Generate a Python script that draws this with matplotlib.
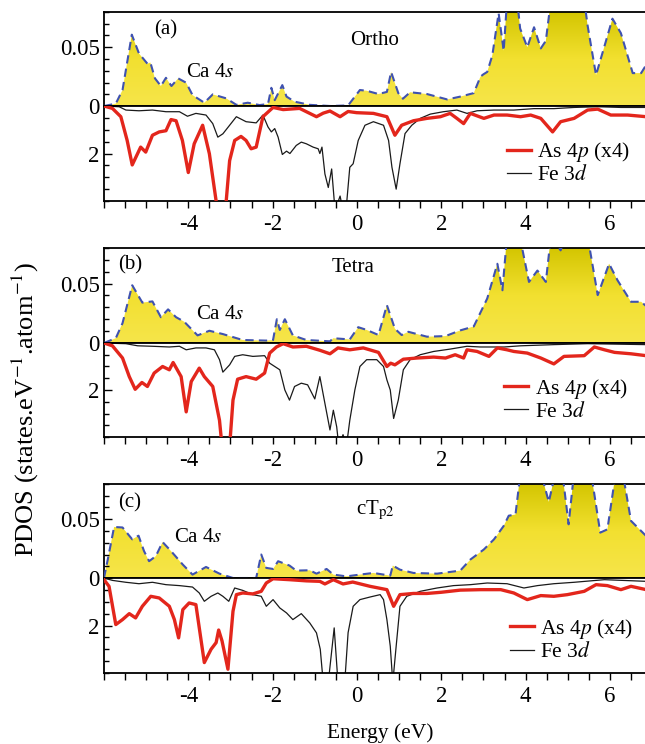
import numpy as np
import matplotlib
import matplotlib.pyplot as plt
from matplotlib.ticker import MultipleLocator, FixedLocator
from matplotlib.colors import LinearSegmentedColormap
from matplotlib.lines import Line2D

plt.rcParams["font.family"] = ["Liberation Serif", "DejaVu Serif"]
plt.rcParams["mathtext.fontset"] = "stix"
plt.rcParams["axes.unicode_minus"] = False

# ---------------- data ----------------
# (a) Ortho
ca_e_a = [-6, -5.72, -5.56, -5.34, -5.17, -4.97, -4.9, -4.79, -4.65, -4.53, -4.4, -4.24, -4.05, -3.9,
          -3.62, -3.42, -3.1, -2.86, -2.59, -2.31, -2.11, -2.03, -1.95, -1.77, -1.67, -1.48, -1.12,
          -0.64, -0.21, 0.07, 0.23, 0.51, 0.71, 0.81, 0.98, 1.09, 1.26, 1.66, 2.14, 2.45, 2.77, 2.93,
          3.0, 3.09, 3.21, 3.36, 3.48, 3.56, 3.8, 3.87, 4.04, 4.2, 4.36, 4.48, 4.6, 5.39, 5.47, 5.67,
          6.06, 6.26, 6.54, 6.74, 6.86]
ca_a = [0, 0.002, 0.0136, 0.0607, 0.0447, 0.036, 0.037, 0.0235, 0.017, 0.024, 0.017, 0.0235, 0.0198,
        0.0093, 0.0028, 0.0099, 0.0065, 0.001, 0.0028, 0.0008, 0.0017, 0.0155, 0.005, 0.0178, 0.008,
        0.0037, 0.001, 0.0, 0.0005, 0.0136, 0.013, 0.0102, 0.012, 0.029, 0.011, 0.0062, 0.0117, 0.0102,
        0.0056, 0.008, 0.011, 0.025, 0.027, 0.029, 0.043, 0.079, 0.047, 0.09, 0.09, 0.066, 0.05, 0.067,
        0.049, 0.0555, 0.09, 0.09, 0.0686, 0.0263, 0.0743, 0.062, 0.028, 0.028, 0.035]
as_e_a = [-6, -5.8, -5.6, -5.45, -5.33, -5.13, -5.01, -4.85, -4.69, -4.53, -4.41, -4.29, -4.14, -4.0,
          -3.86, -3.66, -3.5, -3.34, -3.28, -3.12, -3.02, -2.9, -2.75, -2.63, -2.51, -2.39, -2.23,
          -1.99, -1.75, -1.36, -0.96, -0.8, -0.64, -0.4, -0.21, -0.01, 0.39, 0.71, 0.9, 1.06, 1.34,
          1.66, 1.98, 2.21, 2.37, 2.53, 2.69, 3.01, 3.25, 3.56, 3.88, 4.12, 4.36, 4.64, 4.83, 5.15,
          5.47, 5.71, 6.02, 6.42, 6.86]
as_a = [0, 0.1, 0.45, 1.45, 2.48, 1.73, 1.94, 1.23, 1.09, 1.04, 0.57, 0.62, 1.45, 2.8, 1.59, 0.81,
        2.01, 4.0, 4.4, 4.4, 2.3, 1.45, 1.28, 1.45, 1.8, 1.73, 0.45, 0.06, 0.15, 0.1, 0.45, 0.3, 0.21,
        0.45, 0.23, 0.28, 0.31, 0.45, 1.23, 0.81, 0.62, 0.52, 0.45, 0.31, 0.52, 0.74, 0.31, 0.52, 0.38,
        0.38, 0.45, 0.38, 0.52, 1.09, 0.66, 0.52, 0.17, 0.13, 0.38, 0.38, 0.45]
fe_e_a = [-6, -5.64, -5.48, -5.17, -4.85, -4.53, -4.21, -4.02, -3.82, -3.58, -3.42, -3.3, -3.18, -3.02,
          -2.86, -2.63, -2.39, -2.23, -2.11, -2.03, -1.95, -1.87, -1.77, -1.67, -1.59, -1.44, -1.32,
          -1.2, -1.04, -0.92, -0.88, -0.83, -0.76, -0.68, -0.6, -0.52, -0.4, -0.33, -0.25, -0.17,
          -0.09, 0.03, 0.19, 0.39, 0.63, 0.75, 0.83, 0.93, 1.02, 1.14, 1.3, 1.5, 1.74, 2.05, 2.37,
          2.61, 2.85, 3.25, 3.72, 4.2, 4.67, 5.15, 5.71, 6.26, 6.86]
fe_a = [0, 0.03, 0.17, 0.2, 0.17, 0.24, 0.24, 0.43, 0.31, 0.38, 0.74, 1.31, 1.17, 0.81, 0.45, 0.66,
        0.71, 0.38, 0.88, 1.09, 0.95, 1.31, 2.04, 1.9, 2.0, 1.66, 1.52, 1.59, 1.73, 1.8, 2.0, 1.73,
        2.86, 3.43, 2.65, 4.4, 3.79, 4.4, 4.2, 2.58, 2.43, 1.45, 0.81, 0.66, 0.81, 1.45, 2.58, 3.5,
        2.43, 1.16, 0.81, 0.52, 0.34, 0.24, 0.17, 0.31, 0.2, 0.17, 0.17, 0.11, 0.11, 0.06, 0.03, 0.06,
        0.06]

# (b) Tetra
ca_e_b = [-6, -5.72, -5.56, -5.33, -5.09, -4.85, -4.65, -4.48, -4.29, -4.1, -3.78, -3.5, -3.18, -2.71,
          -2.15, -1.99, -1.9, -1.83, -1.71, -1.52, -1.2, -0.64, -0.56, -0.17, 0.03, 0.23, 0.51, 0.71,
          0.9, 1.06, 1.22, 1.66, 2.1, 2.45, 2.77, 3.09, 3.33, 3.45, 3.56, 3.86, 4.08, 4.28, 4.48, 4.6,
          4.83, 4.95, 5.47, 5.71, 5.98, 6.18, 6.5, 6.74, 6.86]
ca_b = [0, 0.004, 0.0167, 0.0486, 0.034, 0.035, 0.0217, 0.0283, 0.0217, 0.018, 0.0064, 0.0103, 0.0075,
        0.0025, 0.002, 0.0025, 0.02, 0.011, 0.02, 0.0064, 0.0025, 0.0014, 0.004, 0.003, 0.0133, 0.011,
        0.0067, 0.0319, 0.012, 0.0067, 0.0094, 0.0053, 0.0058, 0.0106, 0.0139, 0.0375, 0.0667, 0.0444,
        0.09, 0.09, 0.0514, 0.061, 0.0514, 0.09, 0.078, 0.09, 0.09, 0.0403, 0.0667, 0.0528, 0.0347,
        0.0347, 0.031]
as_e_b = [-6, -5.8, -5.56, -5.4, -5.26, -5.1, -4.97, -4.81, -4.61, -4.45, -4.36, -4.17, -4.05, -3.93,
          -3.74, -3.62, -3.42, -3.26, -3.2, -3.02, -2.94, -2.83, -2.63, -2.39, -2.19, -2.07, -1.91,
          -1.75, -1.52, -1.2, -0.88, -0.64, -0.45, -0.17, 0.15, 0.51, 0.71, 0.8, 0.9, 1.1, 1.42, 1.82,
          2.1, 2.33, 2.53, 2.61, 2.85, 3.13, 3.33, 3.56, 3.72, 4.04, 4.36, 4.67, 4.91, 5.39, 5.63,
          5.87, 6.11, 6.5, 6.86]
as_b = [0, 0.12, 0.64, 1.43, 1.97, 1.68, 1.85, 1.28, 1.0, 1.14, 0.83, 1.43, 2.93, 1.64, 1.07, 1.43,
        1.85, 3.29, 4.4, 4.4, 2.43, 1.54, 1.43, 1.54, 1.28, 0.43, 0.17, 0.03, 0.17, 0.14, 0.31, 0.46,
        0.21, 0.29, 0.21, 0.4, 1.0, 0.86, 0.93, 0.69, 0.64, 0.6, 0.64, 0.5, 0.64, 0.29, 0.36, 0.57,
        0.21, 0.29, 0.36, 0.43, 0.64, 0.89, 0.57, 0.54, 0.17, 0.29, 0.4, 0.46, 0.54]
fe_e_b = [-6, -5.48, -5.2, -4.85, -4.45, -4.21, -4.05, -3.82, -3.58, -3.38, -3.26, -3.18, -3.02, -2.9,
          -2.71, -2.47, -2.19, -2.07, -1.83, -1.71, -1.6, -1.48, -1.32, -1.17, -1.0, -0.88, -0.76,
          -0.64, -0.56, -0.48, -0.43, -0.33, -0.25, -0.17, -0.05, 0.07, 0.23, 0.47, 0.63, 0.71, 0.79,
          0.87, 0.98, 1.1, 1.26, 1.5, 1.82, 2.21, 2.61, 2.93, 3.49, 3.88, 4.67, 5.47, 6.86]
fe_b = [0, 0.03, 0.12, 0.14, 0.17, 0.14, 0.29, 0.21, 0.21, 0.29, 0.71, 1.24, 0.93, 0.57, 0.5, 0.57,
        0.54, 0.86, 1.14, 2.0, 2.43, 1.85, 1.71, 1.78, 2.38, 1.43, 2.57, 3.7, 2.86, 3.57, 4.4, 3.9,
        4.4, 3.29, 2.0, 1.0, 0.71, 0.71, 1.0, 1.57, 2.0, 3.21, 2.43, 1.14, 0.71, 0.5, 0.36, 0.26, 0.14,
        0.17, 0.17, 0.12, 0.07, 0.03, 0.07]

# (c) cTp2
ca_e_c = [-6, -5.91, -5.76, -5.56, -5.33, -5.18, -5.05, -4.93, -4.77, -4.61, -4.41, -4.13, -3.9, -3.58,
          -3.26, -2.94, -2.39, -2.27, -2.15, -1.99, -1.87, -1.6, -1.44, -1.12, -0.96, -0.72, -0.56,
          -0.25, 0.07, 0.39, 0.79, 0.85, 1.02, 1.34, 1.9, 2.45, 2.69, 3.01, 3.25, 3.48, 3.6, 3.76,
          3.88, 4.36, 4.55, 4.71, 4.87, 5.02, 5.15, 5.55, 5.77, 5.94, 6.14, 6.3, 6.5, 6.86]
ca_c = [0, 0.0157, 0.0434, 0.043, 0.0329, 0.036, 0.0229, 0.0143, 0.0186, 0.0306, 0.0229, 0.0114,
        0.0029, 0.0094, 0.0037, 0, 0, 0.02, 0.0086, 0.0077, 0.0143, 0.0106, 0.0063, 0.0066, 0.0037,
        0.0077, 0.0029, 0.0014, 0.0029, 0.0043, 0.002, 0.0106, 0.0071, 0.0043, 0.0037, 0.0063, 0.0157,
        0.0243, 0.0329, 0.0443, 0.053, 0.054, 0.09, 0.09, 0.0648, 0.09, 0.09, 0.0457, 0.09, 0.09,
        0.0386, 0.0414, 0.09, 0.09, 0.0486, 0.0357]
as_e_c = [-6, -5.88, -5.72, -5.56, -5.4, -5.25, -5.09, -4.89, -4.69, -4.45, -4.33, -4.23, -4.13, -3.98,
          -3.82, -3.62, -3.46, -3.34, -3.28, -3.2, -3.06, -2.94, -2.86, -2.71, -2.47, -2.27, -2.15,
          -1.99, -1.6, -1.2, -0.88, -0.76, -0.56, -0.33, -0.1, 0.31, 0.71, 0.87, 1.02, 1.34, 1.66, 2.0,
          2.45, 2.93, 3.41, 3.72, 4.04, 4.36, 4.67, 4.99, 5.39, 5.67, 5.94, 6.26, 6.5, 6.86]
as_c = [0.07, 0.35, 1.96, 1.75, 1.5, 1.68, 1.19, 0.77, 0.84, 1.19, 1.75, 2.52, 1.33, 1.05, 1.12, 3.56,
        3.0, 2.72, 2.19, 2.65, 3.84, 1.4, 0.7, 0.63, 0.67, 0.56, 0.21, 0.03, 0.07, 0.12, 0.14, 0.25,
        0.07, 0.25, 0.17, 0.35, 0.49, 1.19, 0.7, 0.65, 0.65, 0.6, 0.51, 0.49, 0.49, 0.63, 0.91, 0.74,
        0.77, 0.7, 0.56, 0.28, 0.32, 0.49, 0.35, 0.49]
fe_e_c = [-6, -5.8, -5.48, -5.17, -4.85, -4.53, -4.21, -3.9, -3.74, -3.62, -3.46, -3.3, -3.18, -3.04,
          -2.9, -2.71, -2.47, -2.27, -2.15, -1.99, -1.83, -1.67, -1.52, -1.32, -1.12, -0.96, -0.87,
          -0.8, -0.68, -0.54, -0.45, -0.29, -0.21, -0.09, 0.07, 0.31, 0.55, 0.63, 0.71, 0.79, 0.85,
          0.93, 1.02, 1.18, 1.5, 1.9, 2.29, 2.69, 3.09, 3.56, 3.96, 4.28, 4.67, 5.15, 5.87, 6.86]
fe_c = [0, 0.1, 0.18, 0.24, 0.18, 0.28, 0.32, 0.38, 0.63, 0.98, 0.77, 0.63, 0.77, 0.98, 0.42, 0.52,
        0.7, 0.77, 1.19, 0.91, 1.26, 1.47, 1.75, 1.5, 1.89, 2.31, 3.0, 4.4, 4.4, 2.1, 4.4, 4.4, 2.3,
        1.19, 0.91, 0.8, 0.7, 0.91, 1.75, 2.87, 4.4, 2.87, 1.19, 0.77, 0.56, 0.42, 0.32, 0.28, 0.21,
        0.24, 0.42, 0.32, 0.24, 0.18, 0.07, 0.14]

panel_tags = ["(a)", "(b)", "(c)"]
phase_names = ["Ortho", "Tetra", r"cT$_{\mathrm{p2}}$"]
x_ticks = [-4, -2, 0, 2, 4, 6]

# ---------------- layout ----------------
L, W = 0.1612, 0.84
# (top, zero line, bottom) of each panel in figure fraction
frames = [(0.9839, 0.8575, 0.7298), (0.6667, 0.5390, 0.4126), (0.3495, 0.2231, 0.0954)]
tag_pos = [(0.113, 0.81), (0.048, 0.82), (0.048, 0.80)]
name_pos = [(0.50, 0.70), (0.46, 0.79), (0.50, 0.72)]
ca_pos = [(0.196, 0.36), (0.214, 0.30), (0.174, 0.43)]
leg_pos = [(0.744, 0.64), (0.739, 0.64), (0.75, 0.59)]

ca_data = [(ca_e_a, ca_a), (ca_e_b, ca_b), (ca_e_c, ca_c)]
as_data = [(as_e_a, as_a), (as_e_b, as_b), (as_e_c, as_c)]
fe_data = [(fe_e_a, fe_a), (fe_e_b, fe_b), (fe_e_c, fe_c)]

FS = 16
yellow = LinearSegmentedColormap.from_list("yel", ["#F6E54A", "#F2E030", "#D3C500"])
RED = "#E3261C"
BLUE = "#3F52B0"

fig = plt.figure(figsize=(6.45, 7.44), dpi=100)

for i in range(3):
    top, zero, bot = frames[i]
    ax_up = fig.add_axes([L, zero, W, top - zero])
    ax_dn = fig.add_axes([L, bot, W, zero - bot])

    # upper: Ca 4s
    e, v = ca_data[i]
    ax_up.set_xlim(-6, 6.85)
    ax_up.set_ylim(0, 0.08)
    poly = ax_up.fill_between(e, v, 0, facecolor="none", edgecolor="none")
    grad = np.linspace(0, 1, 256).reshape(-1, 1)
    im = ax_up.imshow(grad, cmap=yellow, origin="lower", aspect="auto",
                      extent=[-6, 6.85, 0, 0.08], zorder=1)
    im.set_clip_path(poly.get_paths()[0], transform=ax_up.transData)
    ax_up.plot(e, v, color=BLUE, lw=1.5, dashes=(4, 2.5), zorder=3)

    ax_up.set_xticks([])
    ax_up.yaxis.set_major_locator(FixedLocator([0, 0.05]))
    ax_up.set_yticklabels(["", "0.05"])
    ax_up.yaxis.set_minor_locator(MultipleLocator(0.01))
    ax_up.tick_params(axis="y", which="major", direction="in", length=6, width=1, labelsize=FS + 0.5, pad=3)
    ax_up.tick_params(axis="y", which="minor", direction="in", length=3.5, width=1)

    ax_up.text(*tag_pos[i], panel_tags[i], transform=ax_up.transAxes, fontsize=FS - 1,
               ha="center", va="center")
    ax_up.text(*name_pos[i], phase_names[i], transform=ax_up.transAxes, fontsize=FS - 1,
               ha="center", va="center")
    ax_up.text(*ca_pos[i], r"Ca 4$s$", transform=ax_up.transAxes, fontsize=FS - 1,
               ha="center", va="center")

    # lower: As 4p (x4) and Fe 3d, pointing down
    e, v = as_data[i]
    ax_dn.plot(e, v, color=RED, lw=2.4, zorder=3)
    e, v = fe_data[i]
    ax_dn.plot(e, v, color="#1A1A1A", lw=0.9, zorder=2)
    ax_dn.set_xlim(-6, 6.85)
    ax_dn.set_ylim(4, 0)
    ax_dn.set_xticks(x_ticks)
    ax_dn.xaxis.set_minor_locator(MultipleLocator(0.5))
    ax_dn.tick_params(axis="x", which="both", direction="out", length=5, width=1, labelsize=FS + 0.5, pad=4)
    ax_dn.yaxis.set_major_locator(FixedLocator([0, 2]))
    ax_dn.yaxis.set_minor_locator(MultipleLocator(0.5))
    ax_dn.tick_params(axis="y", which="major", direction="in", length=6, width=1, labelsize=FS + 0.5, pad=3)
    ax_dn.tick_params(axis="y", which="minor", direction="in", length=3.5, width=1)

    for ax in (ax_up, ax_dn):
        for s in ax.spines.values():
            s.set_linewidth(1.3)

    handles = [Line2D([], [], color=RED, lw=2.4), Line2D([], [], color="#1A1A1A", lw=0.9)]
    ax_dn.legend(handles, [r"As 4$p$ (x4)", r"Fe 3$d$"], loc="upper left",
                 bbox_to_anchor=leg_pos[i], frameon=False, fontsize=FS - 0.5,
                 handlelength=1.1, handletextpad=0.3, labelspacing=0.05,
                 borderpad=0, borderaxespad=0)

fig.text(0.04, 0.45, r"PDOS (states.eV$^{-1}$.atom$^{-1}$)", rotation=90,
         ha="center", va="center", fontsize=FS + 3)
fig.text(0.59, 0.015, "Energy (eV)", ha="center", va="center", fontsize=FS - 0.5)

fig.savefig("out.png", dpi=100)
